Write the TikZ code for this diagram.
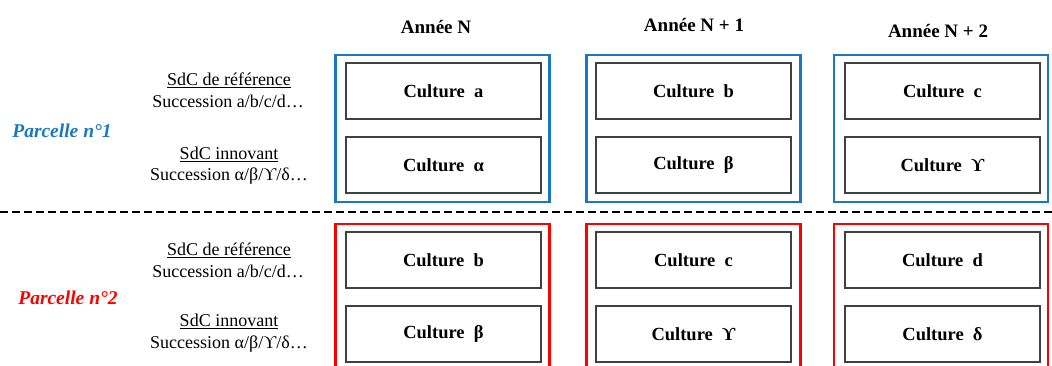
\documentclass[tikz,border=0pt]{standalone}
\usepackage{fontspec}
\setmainfont{Liberation Serif}
\definecolor{pblue}{HTML}{1A78C2}
\definecolor{pred}{HTML}{FF0000}
\definecolor{boxgray}{HTML}{404040}
\newcommand{\ups}{ϒ}
\begin{document}
\begin{tikzpicture}[x=1pt,y=-1pt,
  cell/.style={draw=boxgray,line width=1.3pt,minimum width=195pt,minimum height=56pt,inner sep=0pt,font=\fontsize{18.5}{20}\selectfont\bfseries},
  yearbox/.style={line width=2.2pt,minimum width=214pt,inner sep=0pt},
  head/.style={font=\fontsize{19}{21}\selectfont\bfseries},
  lab/.style={font=\fontsize{18}{21}\selectfont,align=center,inner sep=0pt},
  parc/.style={font=\fontsize{19.5}{22}\selectfont\bfseries\itshape,inner sep=0pt}]
\clip (0,0) rectangle (1052,365);
\useasboundingbox (0,0) rectangle (1052,365);

% headers
\node[head] (h1) at (436,27) {Année N};
\node[head] (h2) at (694,25) {Année N + 1};
\node[head] (h3) at (938,31) {Année N + 2};

% year boxes
\node[yearbox,draw=pblue,minimum height=147pt] (b1) at (442.5,128.5) {};
\node[yearbox,draw=pblue,minimum height=147pt] (b2) at (693.5,128.5) {};
\node[yearbox,draw=pblue,minimum height=147pt] (b3) at (941,128.5) {};
\node[yearbox,draw=pred,minimum height=160pt] (r1) at (442.5,304) {};
\node[yearbox,draw=pred,minimum height=160pt] (r2) at (693.5,304) {};
\node[yearbox,draw=pred,minimum height=160pt] (r3) at (941,304) {};

% cells parcelle 1
\node[cell] (c11) at (443.5,91) {Culture~~a};
\node[cell] (c12) at (443.5,165) {Culture~~α};
\node[cell] (c21) at (693.5,91) {Culture~~b};
\node[cell] (c22) at (693.5,165) {Culture~~β};
\node[cell] (c31) at (942.5,91) {Culture~~c};
\node[cell] (c32) at (942.5,165) {Culture~~\ups};
% cells parcelle 2
\node[cell] (d11) at (443.5,260) {Culture~~b};
\node[cell] (d12) at (443.5,334) {Culture~~β};
\node[cell] (d21) at (693.5,260) {Culture~~c};
\node[cell] (d22) at (693.5,334) {Culture~~\ups};
\node[cell] (d31) at (942.5,260) {Culture~~d};
\node[cell] (d32) at (942.5,334) {Culture~~δ};

% dashed separator
\coordinate (dl) at (0,212);
\coordinate (dr) at (1052,212);
\draw[line width=2.4pt,dash pattern=on 8pt off 4pt] (dl) -- (dr);

% left labels
\node[parc,text=pblue] (p1) at (62,131) {Parcelle n°1};
\node[parc,text=pred] (p2) at (68,298) {Parcelle n°2};

\node[lab] (l1a) at (229,80) {\underline{SdC de référence}};
\node[lab] (l1b) at (228,101) {Succession a/b/c/d…};
\node[lab] (l1c) at (229,154) {\underline{SdC innovant}};
\node[lab] (l1d) at (229,176) {Succession α/β/\ups/δ…};
\node[lab] (l2a) at (229,250) {\underline{SdC de référence}};
\node[lab] (l2b) at (228,271) {Succession a/b/c/d…};
\node[lab] (l2c) at (229,321) {\underline{SdC innovant}};
\node[lab] (l2d) at (229,344) {Succession α/β/\ups/δ…};
\end{tikzpicture}
\end{document}
